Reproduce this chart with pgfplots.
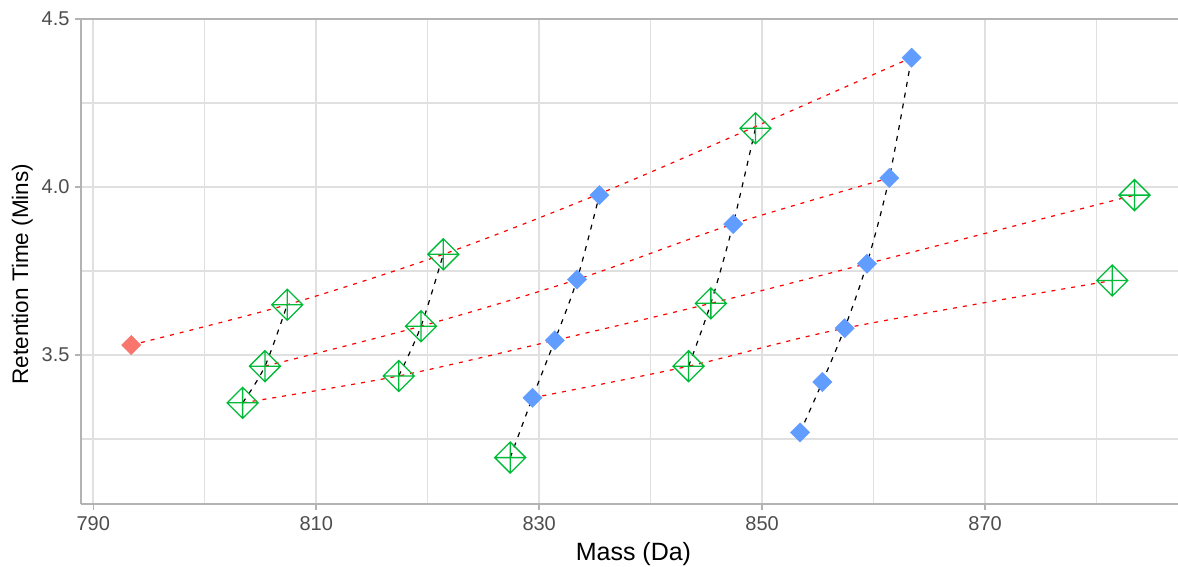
\documentclass[border=0pt]{standalone}
\usepackage{pgfplots}
\pgfplotsset{compat=1.18}
\usepackage{fontspec}
\setmainfont{Liberation Sans}
\definecolor{gridc}{HTML}{E0E0E0}
\definecolor{axc}{HTML}{B3B3B3}
\definecolor{tickc}{HTML}{4D4D4D}
\definecolor{gblue}{HTML}{619CFF}
\definecolor{ggreen}{HTML}{00BA38}
\definecolor{gred}{HTML}{F8766D}
\pgfdeclareplotmark{diamondplus}{%
  \pgfpathmoveto{\pgfqpoint{0pt}{\pgfplotmarksize}}%
  \pgfpathlineto{\pgfqpoint{\pgfplotmarksize}{0pt}}%
  \pgfpathlineto{\pgfqpoint{0pt}{-\pgfplotmarksize}}%
  \pgfpathlineto{\pgfqpoint{-\pgfplotmarksize}{0pt}}%
  \pgfpathclose
  \pgfpathmoveto{\pgfqpoint{0pt}{\pgfplotmarksize}}%
  \pgfpathlineto{\pgfqpoint{0pt}{-\pgfplotmarksize}}%
  \pgfpathmoveto{\pgfqpoint{\pgfplotmarksize}{0pt}}%
  \pgfpathlineto{\pgfqpoint{-\pgfplotmarksize}{0pt}}%
  \pgfusepathqstroke
}
\begin{document}
\begin{tikzpicture}
\useasboundingbox (-81pt,-62pt) rectangle (1097pt,504pt);
\begin{axis}[
  at={(0pt,0pt)}, anchor=south west,
  scale only axis, width=1097pt, height=485pt,
  xmin=788.9, xmax=887.3, ymin=3.057, ymax=4.5,
  axis lines*=left, axis line style={axc, line width=1.5pt, -},
  xtick={790,810,830,850,870}, minor xtick={800,820,840,860,880},
  ytick={3.5,4,4.5}, minor ytick={3.25,3.75,4.25},
  xticklabels={790,810,830,850,870},
  yticklabels={3.5,4.0,4.5},
  grid=both,
  major grid style={gridc, line width=1.6pt},
  minor grid style={gridc, line width=1.3pt},
  tick align=outside, major tick length=6pt, minor tick length=0pt,
  tick style={axc, line width=1.5pt},
  xticklabel style={font=\fontsize{20}{24}\selectfont, text=tickc, yshift=-3pt},
  yticklabel style={font=\fontsize{20}{24}\selectfont, text=tickc, xshift=-2pt},
  xlabel={Mass (Da)}, ylabel={Retention Time (Mins)},
  every axis x label/.style={at={(axis description cs:0.5036,-0.1155)}, anchor=base, font=\fontsize{25}{28}\selectfont},
  every axis y label/.style={at={(axis description cs:-0.0483,0.474)}, rotate=90, anchor=base, font=\fontsize{22.5}{26}\selectfont},
]
% red dashed series lines
\addplot[red, line width=1.2pt, dash pattern=on 4pt off 6pt, smooth] coordinates {
(793.4,3.53) (807.4,3.65) (821.4,3.80) (835.4,3.98) (849.4,4.18) (863.4,4.385)};
\addplot[red, line width=1.2pt, dash pattern=on 4pt off 6pt, smooth] coordinates {
(805.4,3.467) (819.4,3.586) (833.4,3.725) (847.4,3.89) (861.4,4.027)};
\addplot[red, line width=1.2pt, dash pattern=on 4pt off 6pt, smooth] coordinates {
(803.4,3.358) (817.4,3.438) (831.4,3.544) (845.4,3.654) (859.4,3.772) (883.4,3.976)};
\addplot[red, line width=1.2pt, dash pattern=on 4pt off 6pt, smooth] coordinates {
(829.4,3.373) (843.4,3.467) (857.4,3.58) (881.4,3.722)};
% black dashed group lines
\addplot[black, line width=1.2pt, dash pattern=on 5pt off 6pt, smooth] coordinates {
(803.4,3.358) (805.4,3.467) (807.4,3.65)};
\addplot[black, line width=1.2pt, dash pattern=on 5pt off 6pt, smooth] coordinates {
(817.4,3.438) (819.4,3.586) (821.4,3.80)};
\addplot[black, line width=1.2pt, dash pattern=on 5pt off 6pt, smooth] coordinates {
(827.4,3.195) (829.4,3.373) (831.4,3.544) (833.4,3.725) (835.4,3.976)};
\addplot[black, line width=1.2pt, dash pattern=on 5pt off 6pt, smooth] coordinates {
(843.4,3.467) (845.4,3.654) (847.4,3.89) (849.4,4.175)};
\addplot[black, line width=1.2pt, dash pattern=on 5pt off 6pt, smooth] coordinates {
(853.4,3.27) (855.4,3.42) (857.4,3.58) (859.4,3.772) (861.4,4.027) (863.4,4.385)};
% markers
\addplot[only marks, mark=square*, mark size=6.8pt, mark options={rotate=45, fill=gred, draw=gred}] coordinates {
(793.4,3.53)};
\addplot[only marks, mark=square*, mark size=6.8pt, mark options={rotate=45, fill=gblue, draw=gblue}] coordinates {
(829.4,3.373) (831.4,3.544) (833.4,3.725) (835.4,3.976) (847.4,3.89)
(853.4,3.27) (855.4,3.42) (857.4,3.58) (859.4,3.772) (861.4,4.027) (863.4,4.385)};
\addplot[only marks, mark=diamondplus, mark size=15.5pt, mark options={draw=ggreen, line width=1.3pt}] coordinates {
(803.4,3.358) (805.4,3.467) (807.4,3.65) (817.4,3.438) (819.4,3.586) (821.4,3.80)
(827.4,3.195) (843.4,3.467) (845.4,3.654) (849.4,4.175) (881.4,3.722) (883.4,3.976)};
\draw[axc, line width=1.5pt] (rel axis cs:0,1) -- (rel axis cs:1,1);
\end{axis}
\end{tikzpicture}
\end{document}
